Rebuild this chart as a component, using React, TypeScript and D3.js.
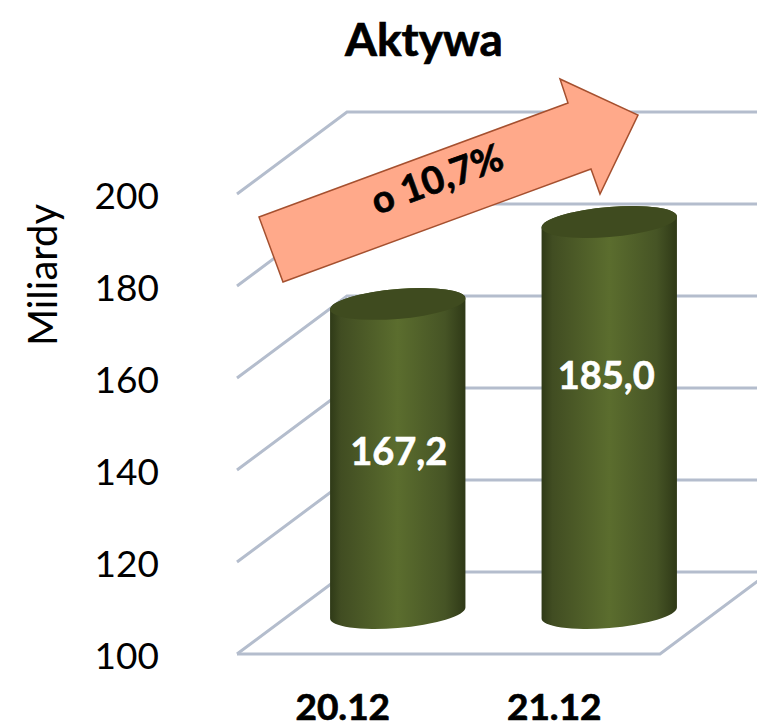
import React from "react";
import * as d3 from "d3";

const periods = ["20.12", "21.12"];
const assets = [167.2, 185.0];
const assetLabels = ["167,2", "185,0"];
const yTicks = [100, 120, 140, 160, 180, 200];

const W = 757;
const H = 727;
const depthX = 110;
const depthY = 82;
const font = "Lato, 'Open Sans', sans-serif";
const gridColor = "#b4bdcd";

// the growth arrow is an annotation pasted on the chart, not a data mark
const arrowPoints = "259,217 568,103 560,79 638,115 600,194 591,169 283,282";

export default function App() {
  const y = d3.scaleLinear().domain([100, 200]).range([654, 194]);
  const x = d3
    .scaleBand()
    .domain(periods)
    .range([237, 660])
    .paddingInner(0.36)
    .paddingOuter(0.18);

  const left = 237;
  const right = 660;
  const floor = y(100);
  const a = x.bandwidth() / 2; // cylinder radius
  const b = 15;
  const shear = -5.5 / a;
  // labels sit a bit off the middle of the column, as in the original
  const labelDrop = [107, 113];
  const labelShift = [1, -3];

  return (
    <svg
      width={W}
      height={H}
      style={{ position: "absolute", left: 0, top: 0, background: "#fff" }}
    >
      <defs>
        <linearGradient id="cyl" x1="0" x2="1" y1="0" y2="0">
          <stop offset="0" stopColor="#2f3a17" />
          <stop offset="0.08" stopColor="#414d22" />
          <stop offset="0.5" stopColor="#5b6d2e" />
          <stop offset="0.85" stopColor="#465425" />
          <stop offset="1" stopColor="#2f3917" />
        </linearGradient>
      </defs>

      <text
        x={424}
        y={56}
        textAnchor="middle"
        fontFamily={font}
        fontWeight={700}
        fontSize={46}
        fill="#000"
        stroke="#000"
        strokeWidth={0.7}
      >
        Aktywa
      </text>
      <text
        transform="translate(57,275) rotate(-90)"
        textAnchor="middle"
        fontFamily={font}
        fontSize={40}
        fill="#000"
      >
        Miliardy
      </text>

      {/* walls */}
      <g fill="none" stroke={gridColor} strokeWidth={3}>
        {yTicks.map((t) => (
          <path
            key={t}
            d={`M${left},${y(t)}L${left + depthX},${y(t) - depthY}L${W + 5},${y(t) - depthY}`}
          />
        ))}
        <path d={`M${left},${floor}L${right},${floor}L${right + depthX},${floor - depthY}`} />
      </g>

      {yTicks.map((t) => (
        <text
          key={t}
          x={159}
          y={y(t) + 2}
          dy="0.35em"
          textAnchor="end"
          fontFamily={font}
          fontSize={37}
          fill="#000"
        >
          {t}
        </text>
      ))}

      {periods.map((p, i) => {
        const cx = x(p)! + a + depthX / 2;
        const top = y(assets[i]) - depthY / 2;
        const base = floor - depthY / 2;
        return (
          <g key={p}>
            <g transform={`matrix(1,${shear},0,1,${cx},0)`}>
              <path
                d={`M${-a},${top}L${-a},${base}A${a},${b} 0 0 0 ${a},${base}L${a},${top}A${a},${b} 0 0 0 ${-a},${top}Z`}
                fill="url(#cyl)"
              />
              <ellipse cx={0} cy={top} rx={a} ry={b} fill="#3f4b1f" />
            </g>
            <text
              x={cx + labelShift[i]}
              y={y(assets[i]) + labelDrop[i]}
              dy="0.35em"
              textAnchor="middle"
              fontFamily={font}
              fontWeight={700}
              fontSize={38}
              fill="#fff"
              stroke="#fff"
              strokeWidth={0.6}
            >
              {assetLabels[i]}
            </text>
            <text
              x={x(p)! + a}
              y={720}
              textAnchor="middle"
              fontFamily={font}
              fontWeight={700}
              fontSize={37}
              fill="#000"
              stroke="#000"
              strokeWidth={0.7}
            >
              {p}
            </text>
          </g>
        );
      })}

      <polygon points={arrowPoints} fill="#ffa98a" stroke="#a5502f" strokeWidth={1.5} />
      <text
        transform="translate(437,179) rotate(-20)"
        dy="0.35em"
        textAnchor="middle"
        fontFamily={font}
        fontWeight={700}
        fontSize={38}
        fill="#000"
        stroke="#000"
        strokeWidth={0.7}
      >
        o 10,7%
      </text>
    </svg>
  );
}
